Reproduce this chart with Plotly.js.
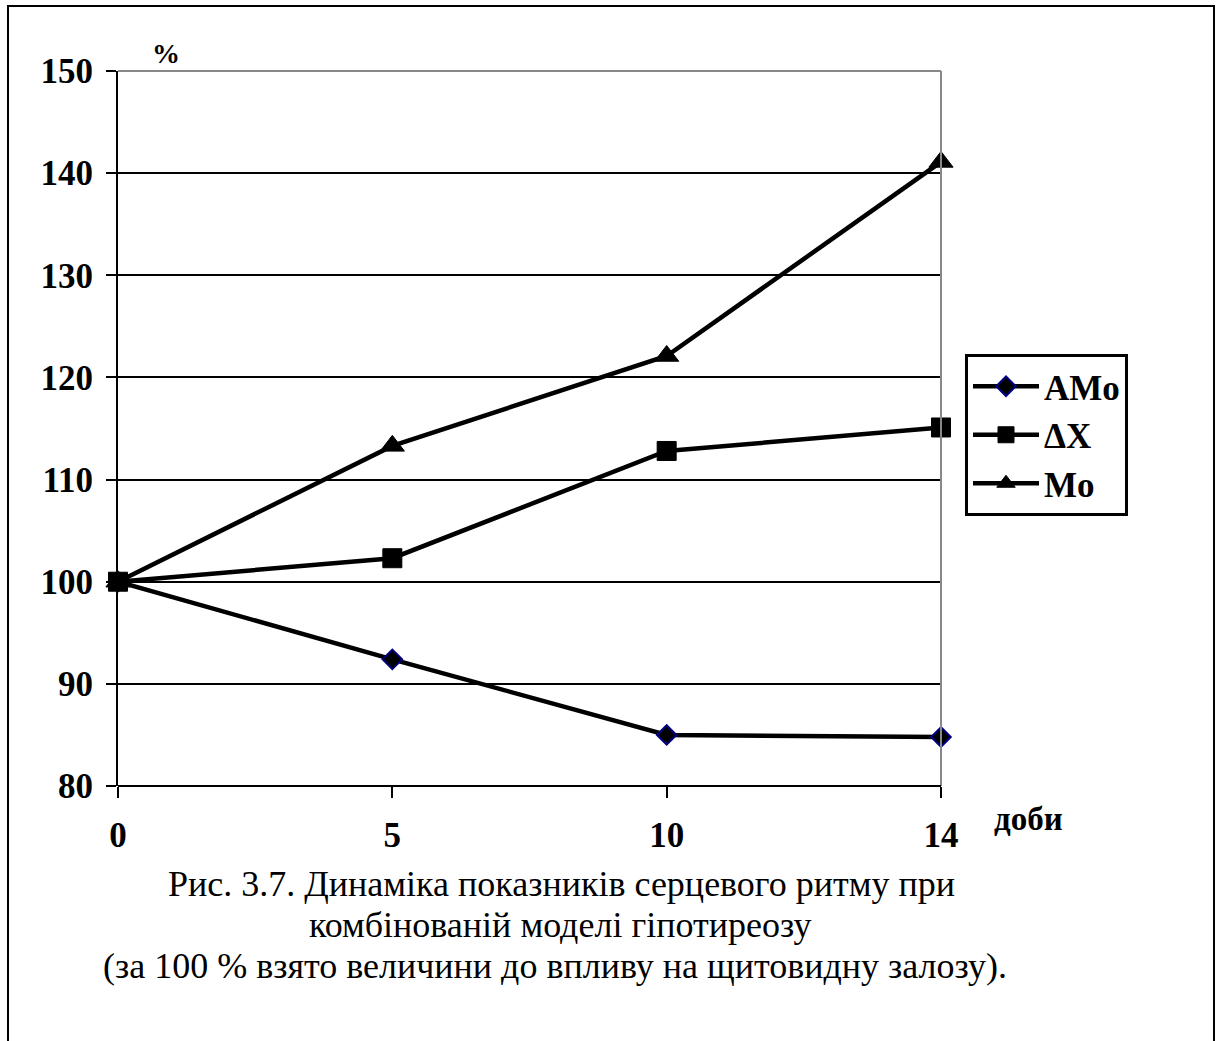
<!DOCTYPE html>
<html>
<head>
<meta charset="utf-8">
<script src="https://cdn.plot.ly/plotly-3.0.1.min.js"></script>
<style>
  html, body { margin: 0; padding: 0; background: #fff; }
  #chart { width: 1221px; height: 1041px; }
</style>
</head>
<body>
<div id="chart"></div>
<script>
// Days of observation (category axis)
const days = ['0', '5', '10', '14'];

// Heart-rate indices, % of the value before thyroid intervention
const amo = [100, 92.4, 85.0, 84.8];
const deltaX = [100, 102.3, 112.8, 115.1];
const mo = [100, 113.3, 122.1, 141.1];

const seriesNames = ['AMo', 'ΔX', 'Mo'];

const yTicks = [80, 90, 100, 110, 120, 130, 140, 150];

const captionLines = [
  'Рис. 3.7. Динаміка показників серцевого ритму при',
  'комбінованій моделі гіпотиреозу',
  '(за 100 % взято величини до впливу на щитовидну залозу).'
];

const serif = 'Liberation Serif';
const boldFont = { family: serif, size: 35, color: '#000', weight: 'bold' };
const captionFont = { family: serif, size: 36, color: '#000' };

const traces = [
  {
    x: days, y: amo, name: seriesNames[0], type: 'scatter', mode: 'lines+markers',
    line: { color: '#000', width: 4.5 },
    marker: { symbol: 'diamond', size: 15, color: '#000', line: { color: '#000080', width: 2 } },
    cliponaxis: false
  },
  {
    x: days, y: deltaX, name: seriesNames[1], type: 'scatter', mode: 'lines+markers',
    line: { color: '#000', width: 4.5 },
    marker: { symbol: 'square', size: 19, color: '#000', line: { color: '#000', width: 1 } },
    cliponaxis: false
  },
  {
    x: days, y: mo, name: seriesNames[2], type: 'scatter', mode: 'lines+markers',
    line: { color: '#000', width: 4.5 },
    marker: { symbol: 'triangle-up', size: 21, color: '#000', line: { color: '#000', width: 1 } },
    cliponaxis: false
  }
];

// plot area in pixels: left 118, right 941, top 71, bottom 786
const L = 118, R = 941, T = 71, B = 786;
const W = 1221, H = 1041;
const px = v => (v - L) / (R - L);
const py = v => (B - v) / (B - T);

const layout = {
  width: W,
  height: H,
  margin: { l: L, r: W - R, t: T, b: H - B, pad: 0 },
  paper_bgcolor: '#fff',
  plot_bgcolor: '#fff',
  showlegend: true,
  font: { family: serif, color: '#000' },
  xaxis: {
    type: 'category',
    categoryorder: 'array',
    categoryarray: days,
    range: [0, 3],
    showgrid: false,
    zeroline: false,
    showline: false,
    ticks: 'outside',
    ticklen: 11,
    tickwidth: 2,
    tickcolor: '#000',
    tickfont: boldFont,
    ticklabelstandoff: 7,
    fixedrange: true
  },
  yaxis: {
    range: [80, 150],
    tickvals: yTicks,
    ticktext: yTicks.map(String),
    showgrid: true,
    gridcolor: '#000',
    gridwidth: 2,
    zeroline: false,
    showline: true,
    linecolor: '#000',
    linewidth: 2,
    ticks: 'outside',
    ticklen: 10,
    tickwidth: 2,
    tickcolor: '#000',
    tickfont: boldFont,
    ticklabelstandoff: 6,
    fixedrange: true
  },
  legend: {
    x: px(965),
    y: py(354),
    xanchor: 'left',
    yanchor: 'top',
    bgcolor: '#fff',
    bordercolor: '#000',
    borderwidth: 3,
    font: { family: serif, size: 35, color: '#000', weight: 'bold' },
    itemwidth: 66,
    tracegroupgap: 0
  },
  shapes: [
    // plot-area frame: top and right edges in grey
    { type: 'line', xref: 'paper', yref: 'paper', x0: 0, x1: 1, y0: 1, y1: 1,
      line: { color: '#888', width: 2 } },
    { type: 'line', xref: 'paper', yref: 'paper', x0: 1, x1: 1, y0: 0, y1: 1,
      line: { color: '#888', width: 2 } },
    // bottom axis line
    { type: 'line', xref: 'paper', yref: 'paper', x0: 0, x1: 1, y0: 0, y1: 0,
      line: { color: '#000', width: 2 } },
    // outer page frame (open at the bottom)
    { type: 'path', xref: 'paper', yref: 'paper',
      path: `M ${px(8)} ${py(1060)} L ${px(8)} ${py(6)} L ${px(1214)} ${py(6)} L ${px(1214)} ${py(1060)}`,
      line: { color: '#000', width: 2 } }
  ],
  annotations: [
    { text: '%', xref: 'paper', yref: 'paper', x: px(166), y: py(53),
      xanchor: 'center', yanchor: 'middle', showarrow: false,
      font: { family: serif, size: 28, color: '#000', weight: 'bold' } },
    { text: 'доби', xref: 'paper', yref: 'paper', x: px(1028), y: py(819),
      xanchor: 'center', yanchor: 'middle', showarrow: false,
      font: { family: serif, size: 33, color: '#000', weight: 'bold' } },
    { text: captionLines[0], xref: 'paper', yref: 'paper', x: px(561), y: py(884),
      xanchor: 'center', yanchor: 'middle', showarrow: false, font: captionFont },
    { text: captionLines[1], xref: 'paper', yref: 'paper', x: px(560), y: py(925),
      xanchor: 'center', yanchor: 'middle', showarrow: false, font: captionFont },
    { text: captionLines[2], xref: 'paper', yref: 'paper', x: px(555), y: py(966),
      xanchor: 'center', yanchor: 'middle', showarrow: false, font: captionFont }
  ]
};

Plotly.newPlot('chart', traces, layout, { staticPlot: true, displayModeBar: false });
</script>
</body>
</html>
